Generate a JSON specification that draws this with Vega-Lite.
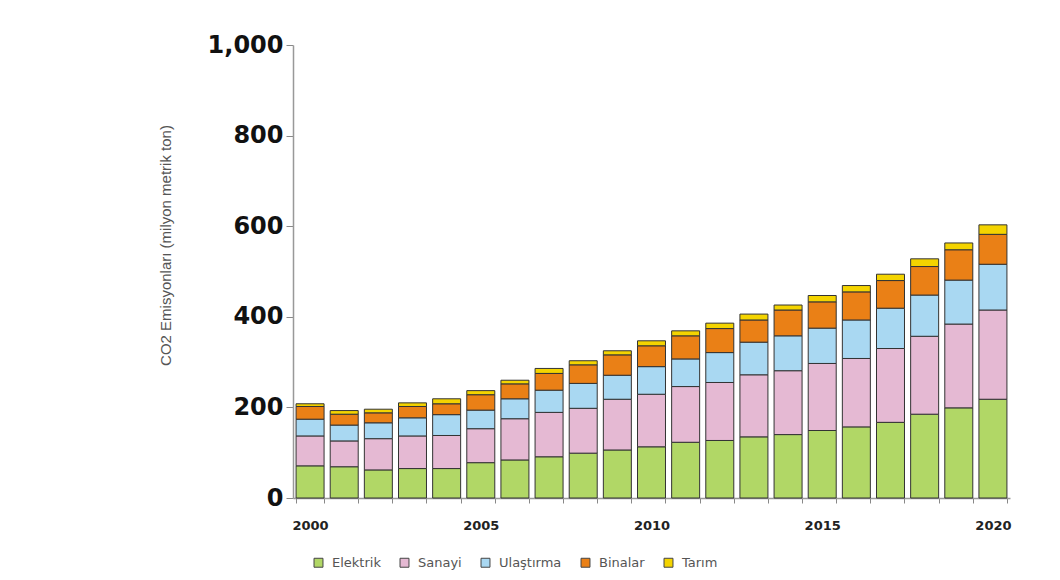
{
  "$schema": "https://vega.github.io/schema/vega-lite/v6.json",
  "autosize": {"type": "none"},
  "width": 717,
  "height": 453,
  "padding": {"left": 293, "top": 45, "right": 50, "bottom": 82},
  "background": "white",
  "config": {"view": {"stroke": null}},
  "data": {"values": [
    {"yil": "2000", "Elektrik": 71, "Sanayi": 66, "Ulaştırma": 37, "Binalar": 28, "Tarım": 6},
    {"yil": "2001", "Elektrik": 69, "Sanayi": 57, "Ulaştırma": 35, "Binalar": 24, "Tarım": 8},
    {"yil": "2002", "Elektrik": 62, "Sanayi": 69, "Ulaştırma": 35, "Binalar": 22, "Tarım": 8},
    {"yil": "2003", "Elektrik": 65, "Sanayi": 72, "Ulaştırma": 40, "Binalar": 25, "Tarım": 8},
    {"yil": "2004", "Elektrik": 65, "Sanayi": 73, "Ulaştırma": 46, "Binalar": 24, "Tarım": 11},
    {"yil": "2005", "Elektrik": 78, "Sanayi": 75, "Ulaştırma": 41, "Binalar": 34, "Tarım": 9},
    {"yil": "2006", "Elektrik": 84, "Sanayi": 91, "Ulaştırma": 44, "Binalar": 33, "Tarım": 8},
    {"yil": "2007", "Elektrik": 91, "Sanayi": 98, "Ulaştırma": 49, "Binalar": 37, "Tarım": 11},
    {"yil": "2008", "Elektrik": 99, "Sanayi": 99, "Ulaştırma": 55, "Binalar": 41, "Tarım": 9},
    {"yil": "2009", "Elektrik": 106, "Sanayi": 112, "Ulaştırma": 53, "Binalar": 45, "Tarım": 9},
    {"yil": "2010", "Elektrik": 113, "Sanayi": 116, "Ulaştırma": 61, "Binalar": 46, "Tarım": 11},
    {"yil": "2011", "Elektrik": 123, "Sanayi": 123, "Ulaştırma": 61, "Binalar": 51, "Tarım": 11},
    {"yil": "2012", "Elektrik": 127, "Sanayi": 128, "Ulaştırma": 66, "Binalar": 53, "Tarım": 12},
    {"yil": "2013", "Elektrik": 135, "Sanayi": 137, "Ulaştırma": 72, "Binalar": 49, "Tarım": 13},
    {"yil": "2014", "Elektrik": 140, "Sanayi": 141, "Ulaştırma": 77, "Binalar": 57, "Tarım": 11},
    {"yil": "2015", "Elektrik": 149, "Sanayi": 148, "Ulaştırma": 78, "Binalar": 58, "Tarım": 14},
    {"yil": "2016", "Elektrik": 157, "Sanayi": 151, "Ulaştırma": 85, "Binalar": 62, "Tarım": 14},
    {"yil": "2017", "Elektrik": 167, "Sanayi": 163, "Ulaştırma": 89, "Binalar": 61, "Tarım": 14},
    {"yil": "2018", "Elektrik": 185, "Sanayi": 172, "Ulaştırma": 91, "Binalar": 63, "Tarım": 17},
    {"yil": "2019", "Elektrik": 199, "Sanayi": 185, "Ulaştırma": 97, "Binalar": 67, "Tarım": 15},
    {"yil": "2020", "Elektrik": 218, "Sanayi": 197, "Ulaştırma": 101, "Binalar": 66, "Tarım": 21}
  ]},
  "transform": [
    {"fold": ["Elektrik", "Sanayi", "Ulaştırma", "Binalar", "Tarım"], "as": ["sektor", "deger"]},
    {"calculate": "indexof(['Elektrik', 'Sanayi', 'Ulaştırma', 'Binalar', 'Tarım'], datum.sektor)", "as": "sira"}
  ],
  "mark": {"type": "bar", "stroke": "#333333", "strokeWidth": 1},
  "encoding": {
    "x": {
      "field": "yil", "type": "ordinal",
      "scale": {"paddingInner": 0.18, "paddingOuter": 0.09},
      "axis": {
        "title": null, "labelAngle": 0,
        "labelExpr": "toNumber(datum.value) % 5 == 0 ? datum.value : ''",
        "tickBand": "extent", "tickSize": 5, "tickColor": "#888", "domainColor": "#999", "domainWidth": 1.5,
        "labelFont": "DejaVu Sans", "labelFontWeight": "bold", "labelFontSize": 13, "labelColor": "#222",
        "labelPadding": 16
      }
    },
    "y": {
      "field": "deger", "type": "quantitative", "stack": "zero",
      "scale": {"domain": [0, 1000]},
      "axis": {
        "title": "CO2 Emisyonları (milyon metrik ton)",
        "titleFont": "Liberation Sans", "titleFontWeight": "normal", "titleFontSize": 15, "titleColor": "#555",
        "titlePadding": 34, "titleY": 200,
        "values": [0, 200, 400, 600, 800, 1000], "format": ",d",
        "grid": false, "tickSize": 7, "tickColor": "#888", "domainColor": "#999", "domainWidth": 1.5,
        "labelFont": "DejaVu Sans", "labelFontWeight": "bold", "labelFontSize": 24, "labelColor": "#111",
        "labelPadding": 3
      }
    },
    "color": {
      "field": "sektor", "type": "nominal",
      "sort": ["Elektrik", "Sanayi", "Ulaştırma", "Binalar", "Tarım"],
      "scale": {
        "domain": ["Elektrik", "Sanayi", "Ulaştırma", "Binalar", "Tarım"],
        "range": ["#b1d766", "#e5b9d3", "#a9d8f2", "#ea8016", "#f4d400"]
      },
      "legend": {
        "title": null, "orient": "none", "direction": "horizontal",
        "legendX": 19, "legendY": 511,
        "symbolType": "square", "symbolSize": 80, "symbolStrokeColor": "#444", "symbolStrokeWidth": 1,
        "labelFont": "DejaVu Sans", "labelFontSize": 13, "labelColor": "#555",
        "columnPadding": 17, "labelOffset": 7
      }
    },
    "order": {"field": "sira", "type": "quantitative", "sort": "ascending"}
  }
}
